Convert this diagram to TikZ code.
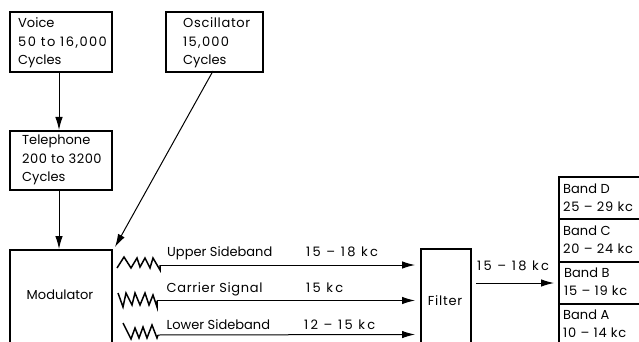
\documentclass[tikz,border=0pt]{standalone}
\usepackage{fontspec}
\setmainfont{Poppins}
\usetikzlibrary{arrows.meta}
\newcommand{\lsp}[1]{\addfontfeature{LetterSpace=#1}}
\tikzset{
  boxshape/.style={draw=black,line width=1.9pt,fill=none,inner sep=0pt,anchor=north west},
  lbl/.style={inner sep=0pt,font=\fontsize{13}{18.5}\selectfont,text=black},
  txtblock/.style={lbl,align=left,anchor=west},
  conn/.style={draw=black,line width=1pt,-{Latex[length=13pt,width=7.5pt]}},
  squig/.style={draw=black,line width=1.5pt,line join=miter}
}
\begin{document}
\begin{tikzpicture}[x=1pt,y=-1pt]
\useasboundingbox (0,0) rectangle (639,342);
% boxes
\node[boxshape,minimum width=102pt,minimum height=60pt] (voice) at (9,11) {};
\node[boxshape,minimum width=97pt,minimum height=60pt] (osc) at (165,11) {};
\node[boxshape,minimum width=102pt,minimum height=59pt] (tel) at (9,130) {};
\begin{scope}
\clip (0,0) rectangle (639,342);
\node[boxshape,minimum width=102pt,minimum height=110pt] (mod) at (9,249) {};
\node[boxshape,minimum width=50pt,minimum height=110pt] (filt) at (420,248) {};
\node[boxshape,minimum width=90pt,minimum height=42pt] (bandd) at (558,176) {};
\node[boxshape,minimum width=90pt,minimum height=43pt] (bandc) at (558,218) {};
\node[boxshape,minimum width=90pt,minimum height=42pt] (bandb) at (558,261) {};
\node[boxshape,minimum width=90pt,minimum height=60pt] (banda) at (558,303) {};
\end{scope}
% box text
\node[txtblock] (tvoice) at (18,43) {Voice\\{\lsp{11}50 to 16,000}\\Cycles};
\node[txtblock] (tosc) at (183,43) {{\lsp{5}Oscillator}\\{\lsp{10}15,000}\\Cycles};
\node[txtblock] (ttel) at (22,160) {Telephone\\{\lsp{4}200 to 3200}\\Cycles};
\node[lbl] (tmod) at (60,295) {Modulator};
\node[lbl] (tfilt) at (445,301) {\lsp{6}Filter};
\node[lbl,anchor=west] (d1) at (563,189) {Band D};
\node[lbl,anchor=west] (d2) at (563,207) {\lsp{6}25 – 29 kc};
\node[lbl,anchor=west] (c1) at (563,231) {Band C};
\node[lbl,anchor=west] (c2) at (563,249) {\lsp{6}20 – 24 kc};
\node[lbl,anchor=west] (b1) at (564,273) {Band B};
\node[lbl,anchor=west] (b2) at (564,291) {\lsp{6}15 – 19 kc};
\node[lbl,anchor=west] (a1) at (563,315) {Band A};
\node[lbl,anchor=west] (a2) at (563,333) {\lsp{6}10 – 14 kc};
% connector labels
\node[lbl,anchor=west] (us) at (167,253) {Upper Sideband};
\node[lbl,anchor=west] (cs) at (166.5,289) {\lsp{5}Carrier Signal};
\node[lbl,anchor=west] (ls) at (166.5,325) {Lower Sideband};
\node[lbl,anchor=west] (f1) at (306,252) {\lsp{17}15 – 18 kc};
\node[lbl,anchor=west] (f2) at (306,288) {\lsp{17}15 kc};
\node[lbl,anchor=west] (f3) at (304,325) {\lsp{17}12 – 15 kc};
\node[lbl,anchor=west] (f4) at (477,266) {\lsp{17}15 – 18 kc};
% free ends
\coordinate (ue) at (160,265);
\coordinate (ce) at (157,300.5);
\coordinate (le) at (158,335);
\coordinate (ua) at (415,265);
\coordinate (ca) at (415,300.5);
\coordinate (la) at (415,334.5);
\coordinate (fo) at (476,283);
\coordinate (fa) at (554,283);
% connectors
\draw[conn] (voice.south -| 59,0) -- (tel.north -| 59,0);
\draw[conn] (tel.south -| 59,0) -- (mod.north -| 59,0);
\coordinate (osco) at (213,71);
\coordinate (modc) at (115,247);
\draw[conn] (osco) -- (modc);
\draw[conn] (ue) -- (ua);
\draw[conn] (ce) -- (ca);
\draw[conn] (le) -- (la);
\draw[conn] (fo) -- (fa);
% squiggles
\draw[squig] (117,268) -- (124,257) -- (131,268) -- (137,258) -- (140,267) -- (145,258) -- (150,268) -- (153,258) -- (160,270) -- (ue);
\draw[squig] (118,293) -- (123,307) -- (126,293) -- (132,305) -- (135,293) -- (140,305) -- (145,293) -- (149,305) -- (153,295) -- (157,307) -- (ce);
\draw[squig] (123,323) -- (131,339) -- (135,328) -- (139,338) -- (143,327) -- (147,338) -- (152,325) -- (157,338) -- (le);
\end{tikzpicture}
\end{document}
